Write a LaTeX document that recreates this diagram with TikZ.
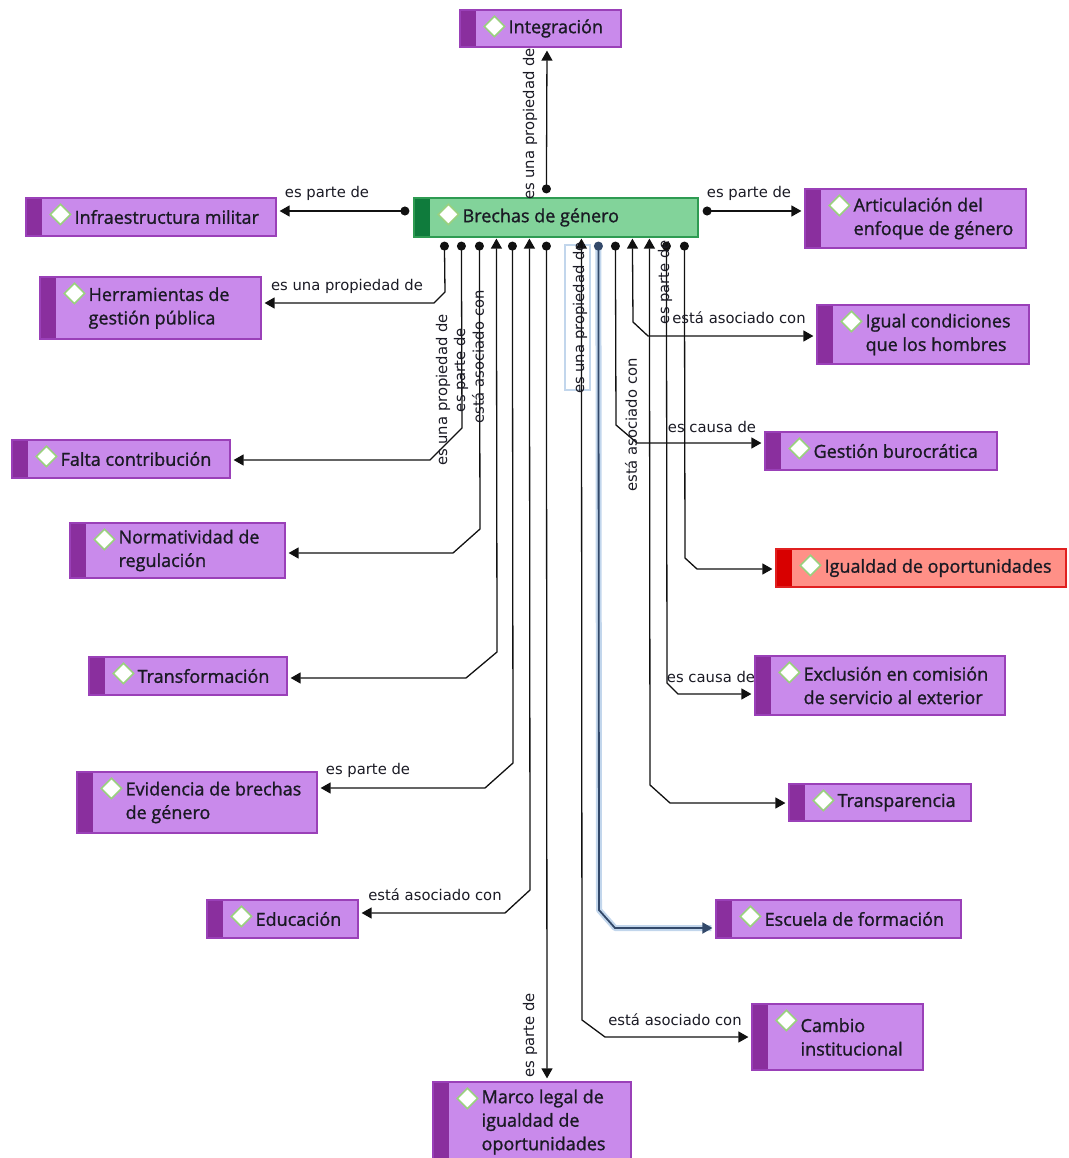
\documentclass[tikz,border=0pt]{standalone}
\usepackage{fontspec}
\setmainfont{Open Sans}
\newfontfamily\nodefont[FakeBold=1.2]{Open Sans}
\newfontfamily\relfont{DejaVu Sans}
\usetikzlibrary{arrows.meta,shapes.geometric}
\definecolor{pfill}{HTML}{C98AEB}
\definecolor{pstripe}{HTML}{8A2F9E}
\definecolor{pborder}{HTML}{9A40B8}
\definecolor{gfill}{HTML}{82D39A}
\definecolor{gstripe}{HTML}{0F7B3C}
\definecolor{gborder}{HTML}{2E9B52}
\definecolor{rfill}{HTML}{FF9087}
\definecolor{rstripe}{HTML}{D80000}
\definecolor{rborder}{HTML}{E02020}
\definecolor{diab}{HTML}{9AD17F}
\definecolor{txtc}{HTML}{1A1A24}
\definecolor{linec}{HTML}{111111}
\definecolor{selglow}{HTML}{C2D6EC}
\definecolor{selline}{HTML}{33496A}
\newcommand\boxlabel[2]{%
  \node[dia] (#1-d) at ([xshift=35pt,yshift=-17pt]#1.north west) {};
  \node[ntext] (#1-t) at ([xshift=49pt]#1.west) {#2};}
\tikzset{
  pbox/.style={draw=pborder, fill=pfill, line width=1.2pt, inner sep=0pt,
    path picture={\fill[pstripe] (path picture bounding box.south west) rectangle ([xshift=16pt]path picture bounding box.north west);}},
  gbox/.style={draw=gborder, fill=gfill, line width=1.2pt, inner sep=0pt,
    path picture={\fill[gstripe] (path picture bounding box.south west) rectangle ([xshift=16pt]path picture bounding box.north west);}},
  rbox/.style={draw=rborder, fill=rfill, line width=1.2pt, inner sep=0pt,
    path picture={\fill[rstripe] (path picture bounding box.south west) rectangle ([xshift=16pt]path picture bounding box.north west);}},
  dia/.style={diamond, draw=diab, fill=white, line width=1.6pt, inner sep=0pt, minimum width=21pt, minimum height=21pt},
  ntext/.style={anchor=west, align=left, inner sep=0pt, text=txtc, font=\nodefont\fontsize{18}{23.5}\selectfont},
  rel/.style={inner sep=0pt, text=txtc, font=\relfont\fontsize{14.8}{16}\selectfont},
  vrel/.style={rel, rotate=90},
  conn/.style={line width=1.3pt, draw=linec, shorten >=3pt},
  dotc/.style={conn, {Circle[length=9pt]}-{Triangle[length=10pt,width=11pt]}},
  bic/.style={conn, {Triangle[length=10pt,width=11pt]}-{Triangle[length=10pt,width=11pt]}},
}
\begin{document}
\begin{tikzpicture}[x=1pt,y=-1pt]
\useasboundingbox (0,0) rectangle (1068,1158);
% boxes
\node[pbox, minimum width=161pt, minimum height=37pt] (int) at (540.5,28.5) {};
\node[gbox, minimum width=284pt, minimum height=39pt] (br) at (556,217.5) {};
\node[pbox, minimum width=250pt, minimum height=38pt] (inf) at (151,217) {};
\node[pbox, minimum width=221pt, minimum height=59pt] (art) at (915.5,218.5) {};
\node[pbox, minimum width=221pt, minimum height=62pt] (her) at (150.5,308) {};
\node[pbox, minimum width=212pt, minimum height=59pt] (igc) at (923,334.5) {};
\node[pbox, minimum width=218pt, minimum height=38pt] (fal) at (121,459) {};
\node[pbox, minimum width=232pt, minimum height=38pt] (ges) at (881,451) {};
\node[pbox, minimum width=215pt, minimum height=55pt] (nor) at (177.5,550.5) {};
\node[rbox, minimum width=290pt, minimum height=38pt] (ido) at (921,568) {};
\node[pbox, minimum width=198pt, minimum height=38pt] (tra) at (188,676) {};
\node[pbox, minimum width=250pt, minimum height=59pt] (exc) at (880,685.5) {};
\node[pbox, minimum width=240pt, minimum height=61pt] (evi) at (197,802.5) {};
\node[pbox, minimum width=182pt, minimum height=37pt] (tsp) at (880,802.5) {};
\node[pbox, minimum width=151pt, minimum height=38pt] (edu) at (282.5,919) {};
\node[pbox, minimum width=245pt, minimum height=38pt] (esc) at (838.5,919) {};
\node[pbox, minimum width=171pt, minimum height=66pt] (cam) at (837.5,1037) {};
\node[pbox, minimum width=198pt, minimum height=80pt] (mar) at (532,1122) {};
% labels in boxes
\boxlabel{int}{Integración}
\boxlabel{br}{Brechas de género}
\boxlabel{inf}{Infraestructura militar}
\boxlabel{art}{Articulación del\\enfoque de género}
\boxlabel{her}{Herramientas de\\gestión pública}
\boxlabel{igc}{Igual condiciones\\que los hombres}
\boxlabel{fal}{Falta contribución}
\boxlabel{ges}{Gestión burocrática}
\boxlabel{nor}{Normatividad de\\regulación}
\boxlabel{ido}{Igualdad de oportunidades}
\boxlabel{tra}{Transformación}
\boxlabel{exc}{Exclusión en comisión\\de servicio al exterior}
\boxlabel{evi}{Evidencia de brechas\\de género}
\boxlabel{tsp}{Transparencia}
\boxlabel{edu}{Educación}
\boxlabel{esc}{Escuela de formación}
\boxlabel{cam}{Cambio\\institucional}
\boxlabel{mar}{Marco legal de\\igualdad de\\oportunidades}
% selected label frame
\draw[selglow, line width=1.5pt] (565,245) rectangle (590,390);
% connectors
\draw[dotc] ([xshift=133pt,yshift=4pt]br.north west) -- (int.south -| 547,0);
\draw[dotc] ([xshift=-4pt,yshift=6.5pt]br.west) -- (inf.east |- 0,211);
\draw[dotc] ([xshift=4pt,yshift=6.5pt]br.east) -- (art.west |- 0,211);
\draw[dotc] ([xshift=31pt,yshift=-4pt]br.south west) -- (445,292) -- (434,303) -- (her.east |- 0,303);
\draw[dotc] ([xshift=48pt,yshift=-4pt]br.south west) -- (462,428) -- (430,460) -- (fal.east |- 0,460);
\draw[dotc] ([xshift=66pt,yshift=-4pt]br.south west) -- (480,529) -- (453,553) -- (nor.east |- 0,553);
\draw[bic] ([xshift=83pt,yshift=-1pt]br.south west) -- (497,652) -- (466,678) -- (tra.east |- 0,678);
\draw[dotc] ([xshift=99pt,yshift=-4pt]br.south west) -- (513,763) -- (485,788) -- (evi.east |- 0,788);
\draw[bic] ([xshift=116pt,yshift=-1pt]br.south west) -- (530,890) -- (505,913) -- (edu.east |- 0,913);
\draw[dotc] ([xshift=133pt,yshift=-4pt]br.south west) -- (mar.north -| 547,0);
\draw[bic] ([xshift=168pt,yshift=-1pt]br.south west) -- (582,1020) -- (605,1037) -- (cam.west |- 0,1037);
\draw[selglow, line width=6pt, line join=round] ([xshift=185pt,yshift=-8pt]br.south west) -- (599,910) -- (615,928) -- ([xshift=-4pt]esc.west |- 0,928);
\draw[dotc, draw=selline, line width=1.8pt, {Circle[length=9pt]}-{Triangle[length=10pt,width=11pt]}, selline] ([xshift=185pt,yshift=-4pt]br.south west) -- (599,910) -- (615,928) -- (esc.west |- 0,928);
\draw[dotc] ([xshift=202pt,yshift=-4pt]br.south west) -- (616,425) -- (637,443) -- (ges.west |- 0,443);
\draw[bic] ([xshift=219pt,yshift=-1pt]br.south west) -- (633,322) -- (648,336) -- (igc.west |- 0,336);
\draw[bic] ([xshift=236pt,yshift=-1pt]br.south west) -- (650,785) -- (670,803) -- (tsp.west |- 0,803);
\draw[dotc] ([xshift=253pt,yshift=-4pt]br.south west) -- (667,683) -- (678,694) -- (exc.west |- 0,694);
\draw[dotc] ([xshift=271pt,yshift=-4pt]br.south west) -- (685,558) -- (697,569) -- (ido.west |- 0,569);
% relation labels
\node[rel] (l1) at (327,193) {es parte de};
\node[rel] (l2) at (749,193) {es parte de};
\node[rel] (l3) at (347,286) {es una propiedad de};
\node[rel] (l4) at (739,318) {está asociado con};
\node[rel] (l5) at (712,427) {es causa de};
\node[rel] (l6) at (711,677) {es causa de};
\node[rel] (l7) at (368,770) {es parte de};
\node[rel] (l8) at (435,895) {está asociado con};
\node[rel] (l9) at (675,1020) {está asociado con};
\node[vrel] (v1) at (530,124) {es una propiedad de};
\node[vrel] (v2) at (530,1035) {es parte de};
\node[vrel] (v3) at (443,390) {es una propiedad de};
\node[vrel] (v4) at (461,370) {es parte de};
\node[vrel] (v5) at (478,357) {está asociado con};
\node[vrel] (v6) at (580,318) {es una propiedad de};
\node[vrel] (v7) at (665,282) {es parte de};
\node[vrel] (v8) at (631,425) {está asociado con};
\end{tikzpicture}
\end{document}
